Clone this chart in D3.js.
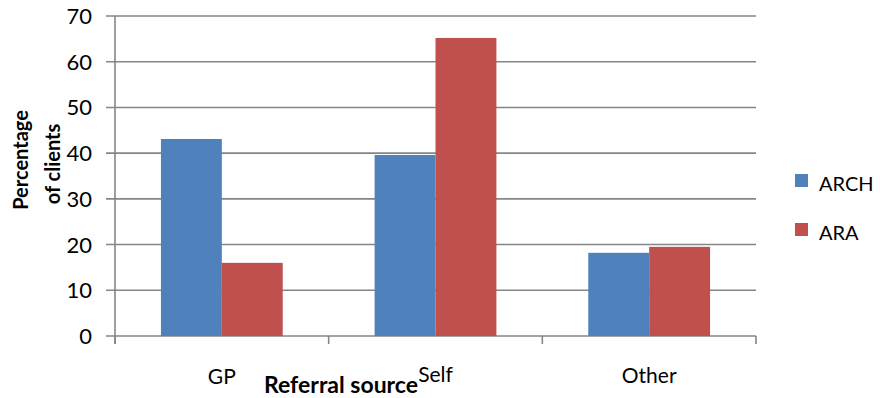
<!DOCTYPE html>
<html>
<head>
<meta charset="utf-8">
<script src="https://cdn.jsdelivr.net/npm/d3@7"></script>
<style>
  html, body { margin: 0; padding: 0; background: #fff; }
  svg { display: block; font-family: Lato, "Open Sans", sans-serif; }
</style>
</head>
<body>
<svg id="chart" width="880" height="398"></svg>
<script>
// Referral source of clients, per service (percent)
const categories = ["GP", "Self", "Other"];
const seriesNames = ["ARCH", "ARA"];
const archValues = [43.1, 39.6, 18.2];
const araValues = [16.0, 65.2, 19.5];
const yTicks = [0, 10, 20, 30, 40, 50, 60, 70];
const seriesColors = ["#4F81BD", "#C0504D"];

const svg = d3.select("#chart");
const plot = { left: 115, right: 756, top: 16, bottom: 336 };

const x0 = d3.scaleBand()
  .domain(categories)
  .range([plot.left, plot.right])
  .paddingInner(0.43)
  .paddingOuter(0.215);
const x1 = d3.scaleBand()
  .domain(seriesNames)
  .range([0, x0.bandwidth()]);
const y = d3.scaleLinear().domain([0, 70]).range([plot.bottom, plot.top]);
const color = d3.scaleOrdinal().domain(seriesNames).range(seriesColors);

const gridColor = "#868686";

// Horizontal gridlines, with the short left ticks merged in
svg.append("g")
  .selectAll("line")
  .data(yTicks)
  .join("line")
  .attr("x1", plot.left - 9)
  .attr("x2", plot.right)
  .attr("y1", d => y(d))
  .attr("y2", d => y(d))
  .attr("stroke", gridColor)
  .attr("stroke-width", 1.6);

// Bars
const rows = categories.map((c, i) => ({ cat: c, values: [archValues[i], araValues[i]] }));
svg.append("g")
  .selectAll("g")
  .data(rows)
  .join("g")
  .attr("transform", d => `translate(${x0(d.cat)},0)`)
  .selectAll("rect")
  .data(d => d.values.map((v, j) => ({ key: seriesNames[j], value: v })))
  .join("rect")
  .attr("x", d => x1(d.key))
  .attr("width", x1.bandwidth())
  .attr("y", d => y(d.value))
  .attr("height", d => y(0) - y(d.value))
  .attr("fill", d => color(d.key));

// Y axis line
svg.append("line")
  .attr("x1", plot.left).attr("x2", plot.left)
  .attr("y1", plot.top).attr("y2", plot.bottom + 8)
  .attr("stroke", gridColor).attr("stroke-width", 1.6);

// X axis category separators
const step = x0.step();
const boundaries = d3.range(categories.length + 1).map(i => plot.left + i * step);
svg.append("g")
  .selectAll("line")
  .data(boundaries)
  .join("line")
  .attr("x1", d => d).attr("x2", d => d)
  .attr("y1", plot.bottom).attr("y2", plot.bottom + 8)
  .attr("stroke", gridColor).attr("stroke-width", 1.6);

// Y tick labels
svg.append("g")
  .selectAll("text")
  .data(yTicks)
  .join("text")
  .attr("x", 92)
  .attr("y", d => y(d) + 8)
  .attr("text-anchor", "end")
  .attr("font-size", 22)
  .attr("fill", "#000")
  .text(d => d);

// Category labels
const catLabelY = { GP: 384, Self: 382, Other: 383 };
svg.append("g")
  .selectAll("text")
  .data(categories)
  .join("text")
  .attr("x", d => x0(d) + x0.bandwidth() / 2)
  .attr("y", d => catLabelY[d])
  .attr("text-anchor", "middle")
  .attr("font-size", 21)
  .attr("fill", "#000")
  .text(d => d);

// Axis titles
svg.append("text")
  .attr("x", 341)
  .attr("y", 393)
  .attr("text-anchor", "middle")
  .attr("font-size", 23)
  .attr("font-weight", "bold")
  .attr("fill", "#000")
  .text("Referral source");

const yTitle = svg.append("g").attr("transform", "translate(0,160) rotate(-90)");
yTitle.append("text")
  .attr("x", 0).attr("y", 28)
  .attr("text-anchor", "middle")
  .attr("font-size", 20)
  .attr("font-weight", "bold")
  .attr("fill", "#000")
  .text("Percentage");
yTitle.append("text")
  .attr("x", -4).attr("y", 60)
  .attr("text-anchor", "middle")
  .attr("font-size", 20)
  .attr("font-weight", "bold")
  .attr("fill", "#000")
  .text("of clients");

// Legend
const legend = svg.append("g")
  .selectAll("g")
  .data(seriesNames)
  .join("g")
  .attr("transform", (d, i) => `translate(795,${174 + i * 49})`);
legend.append("rect")
  .attr("width", 13).attr("height", 13)
  .attr("fill", d => color(d));
legend.append("text")
  .attr("x", 24).attr("y", 17)
  .attr("font-size", 20)
  .attr("fill", "#000")
  .text(d => d);
</script>
</body>
</html>
